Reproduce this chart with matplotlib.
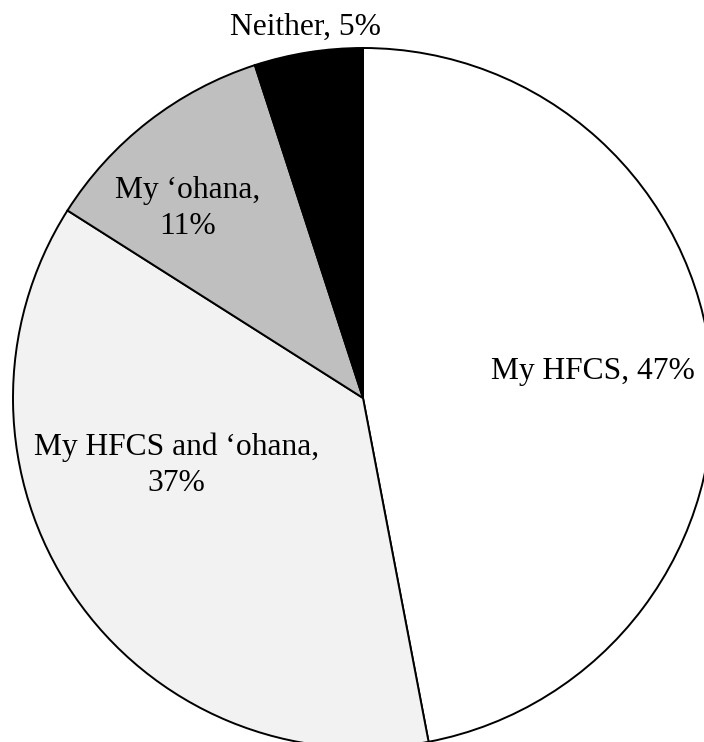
import matplotlib
matplotlib.use("Agg")
import matplotlib.pyplot as plt

labels = ["My HFCS, 47%", "My HFCS and \u2018ohana,\n37%", "My \u2018ohana,\n11%", "Neither, 5%"]
shares = [47, 37, 11, 5]
colors = ["#ffffff", "#f2f2f2", "#bfbfbf", "#000000"]

plt.rcParams["font.family"] = ["Liberation Serif", "DejaVu Serif"]

fig = plt.figure(figsize=(7.04, 7.42), dpi=100)
# pie centre at about (363, 398) px, radius 350 px
ax = fig.add_axes([13 / 704, -6 / 742, 700 / 704, 700 / 742])

wedges, _ = ax.pie(
    shares,
    colors=colors,
    startangle=90,
    counterclock=False,
    radius=1.0,
    wedgeprops={"edgecolor": "black", "linewidth": 1.4},
)

# baseline of the last line of each label
label_pos = [(0.656, 0.054), (-0.534, -0.266), (-0.501, 0.469), (-0.163, 1.037)]
for text, (x, y) in zip(labels, label_pos):
    ax.text(x, y, text, ha="center", va="baseline", fontsize=22.7, linespacing=1.32)

ax.set_xlim(-1, 1)
ax.set_ylim(-1, 1)
ax.set_aspect("equal")
ax.axis("off")

fig.savefig("out.png", dpi=100)
